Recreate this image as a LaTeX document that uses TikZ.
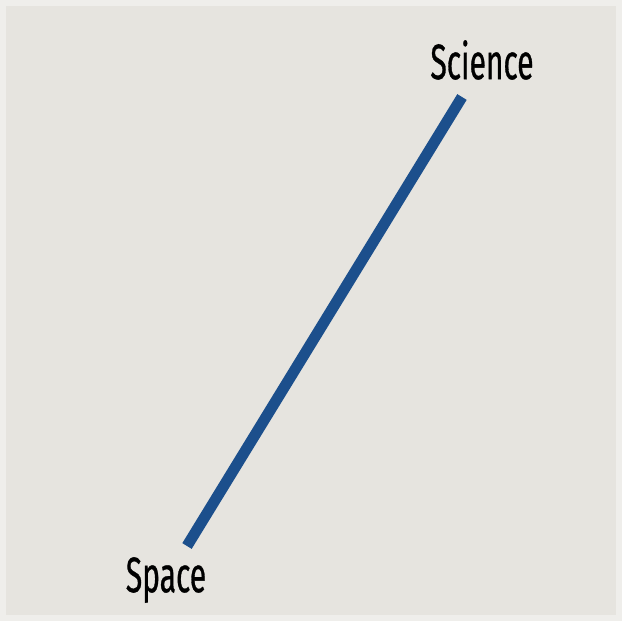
\documentclass[tikz,border=0pt]{standalone}
\usepackage{fontspec}
\setmainfont[FakeStretch=0.6,FakeBold=0.6]{Fira Sans}
\definecolor{paper}{RGB}{230,228,223}
\definecolor{paperedge}{RGB}{239,238,235}
\definecolor{axisblue}{RGB}{28,79,140}
\tikzset{
  axislabel/.style={font=\fontsize{50}{54}\selectfont, text=black, inner sep=0pt},
  axisline/.style={axisblue, line width=11pt}
}
\begin{document}
\begin{tikzpicture}[x=1pt,y=-1pt]
\fill[paperedge] (0,0) rectangle (622,621);
\fill[paper] (6,6) rectangle (616,615);
\useasboundingbox (0,0) rectangle (622,621);
\node[axislabel] (science) at (482,60) {Science};
\node[axislabel] (space) at (166,580) {Space};
\coordinate (science end) at (462,97);
\coordinate (space end) at (187,546);
\draw[axisline] (space end) -- (science end);
\end{tikzpicture}
\end{document}
